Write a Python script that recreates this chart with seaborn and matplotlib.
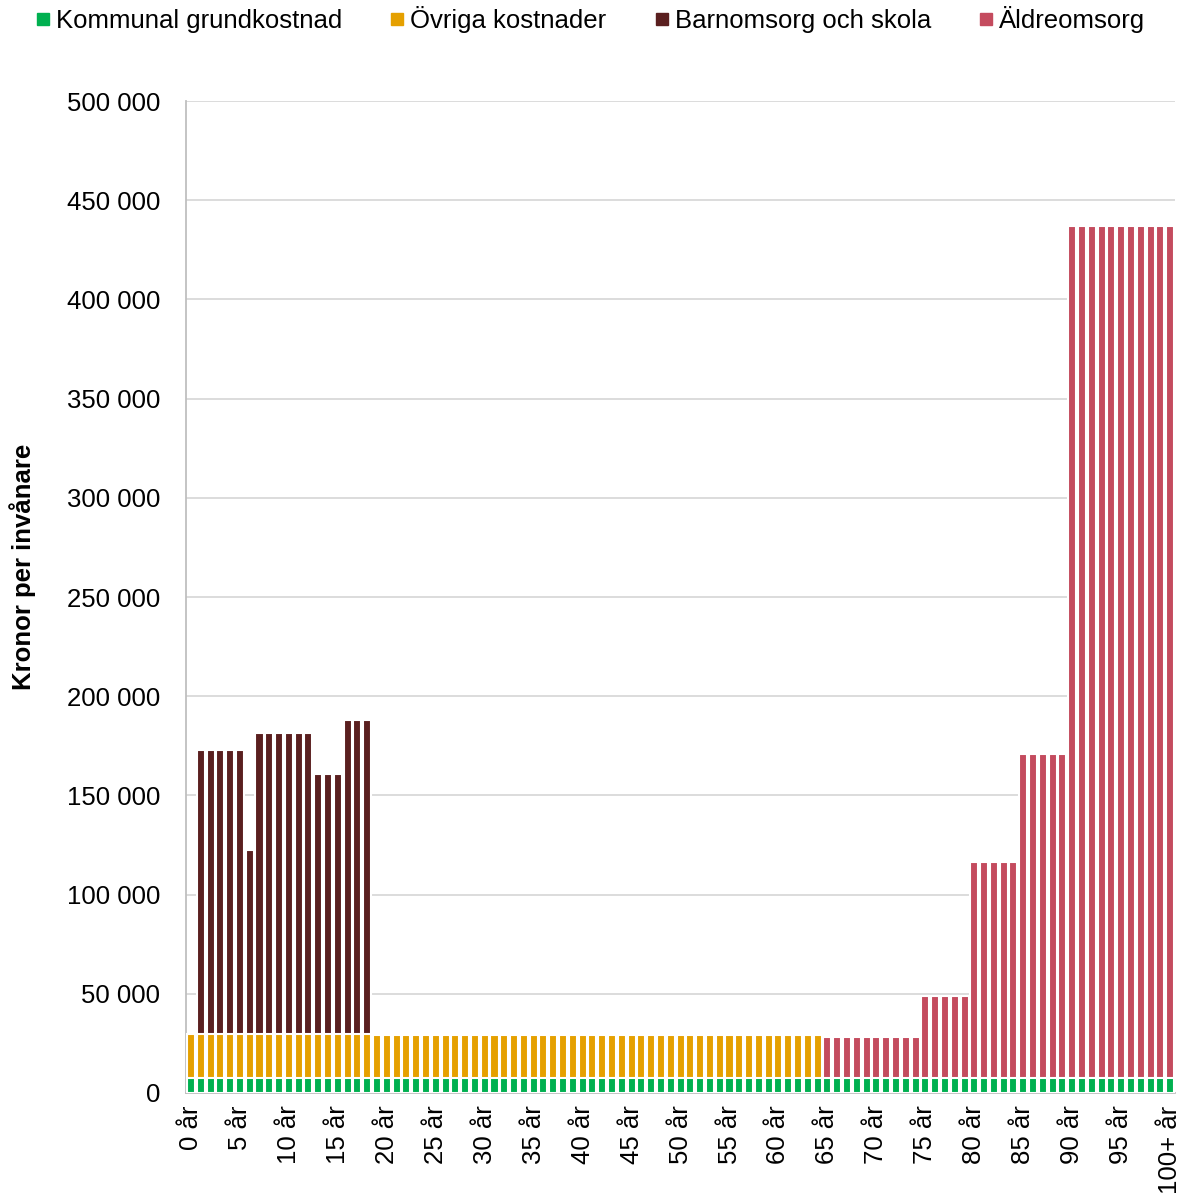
import numpy as np
import pandas as pd
import matplotlib
matplotlib.use("Agg")
import matplotlib.pyplot as plt
from matplotlib.lines import Line2D
import seaborn as sns

# Ålder 0..100+ (101 staplar)
ages = [f"{a} år" for a in range(100)] + ["100+ år"]

# Kostnader per invånare (kronor)
grund = [7500] * 101
ovriga = [22200] * 19 + [21500] * 46 + [0] * 36
barn = ([0] + [143200] * 5 + [92800] + [151600] * 6 + [130900] * 3
        + [158300] * 3 + [0] * 82)
aldre = ([0] * 65 + [20700] * 10 + [41400] * 5 + [108900] * 5
         + [163400] * 5 + [429500] * 11)

series = ["Kommunal grundkostnad", "Övriga kostnader",
          "Barnomsorg och skola", "Äldreomsorg"]
colors = ["#00b050", "#e5a000", "#5a1f1f", "#c44b5e"]

df = pd.DataFrame({"ålder": ages, "grund": grund, "ovriga": ovriga,
                   "barn": barn, "aldre": aldre})
df["t_grund"] = df["grund"]
df["t_ovriga"] = np.where(df["ovriga"] > 0, df["grund"] + df["ovriga"], 0)
df["t_barn"] = np.where(df["barn"] > 0, df["grund"] + df["ovriga"] + df["barn"], 0)
df["t_aldre"] = np.where(df["aldre"] > 0, df["grund"] + df["ovriga"] + df["aldre"], 0)

sns.set_style("white")
plt.rcParams["font.family"] = ["Liberation Sans", "DejaVu Sans"]
plt.rcParams["text.color"] = "black"
plt.rcParams["xtick.labelcolor"] = "black"
plt.rcParams["ytick.labelcolor"] = "black"
plt.rcParams["axes.labelcolor"] = "black"
fs = 18.5

fig = plt.figure(figsize=(11.85, 11.94), dpi=100)
ax = fig.add_axes([0.157, 0.0846, 0.8346, 0.8308])

# Rita från toppen och nedåt så att varje lager täcker det undre
layers = [("t_barn", colors[2]), ("t_aldre", colors[3]),
          ("t_ovriga", colors[1]), ("t_grund", colors[0])]
for col, c in layers:
    sns.barplot(data=df, x="ålder", y=col, order=ages, color=c,
                width=0.82, edgecolor="white", linewidth=1.5,
                saturation=1, ax=ax, zorder=3)

ax.set_xlim(-0.5, 100.5)
ax.set_ylim(0, 500000)
yt = np.arange(0, 500001, 50000)
ax.set_yticks(yt)
ax.set_yticklabels([f"{v:,}".replace(",", " ") for v in yt], fontsize=fs)
ax.set_xticks(range(101))
ax.set_xticklabels([a if i % 5 == 0 else "" for i, a in enumerate(ages)],
                   rotation=90, fontsize=fs)
ax.tick_params(axis="x", length=3, color="#bfbfbf", pad=6)
ax.tick_params(axis="y", length=6, color="#d9d9d9", pad=12.5)
ax.grid(axis="y", color="#d9d9d9", linewidth=1.3, zorder=0)
ax.set_axisbelow(True)
for s in ["top", "right"]:
    ax.spines[s].set_visible(False)
for s in ["left", "bottom"]:
    ax.spines[s].set_color("#bfbfbf")
    ax.spines[s].set_linewidth(1.3)

ax.set_xlabel("")
ax.set_ylabel("Kronor per invånare", fontsize=fs, fontweight="bold")
ax.yaxis.set_label_coords(-0.152, 0.53)

handles = [Line2D([], [], marker="s", linestyle="", markersize=8,
                  markerfacecolor=c, markeredgecolor=c) for c in colors]
fig.legend(handles, series, loc="upper center", ncol=4, frameon=False,
           fontsize=fs, bbox_to_anchor=(0.497, 1.014), handletextpad=0.1,
           columnspacing=1.75, handlelength=0.8)

fig.savefig("out.png", dpi=100)
